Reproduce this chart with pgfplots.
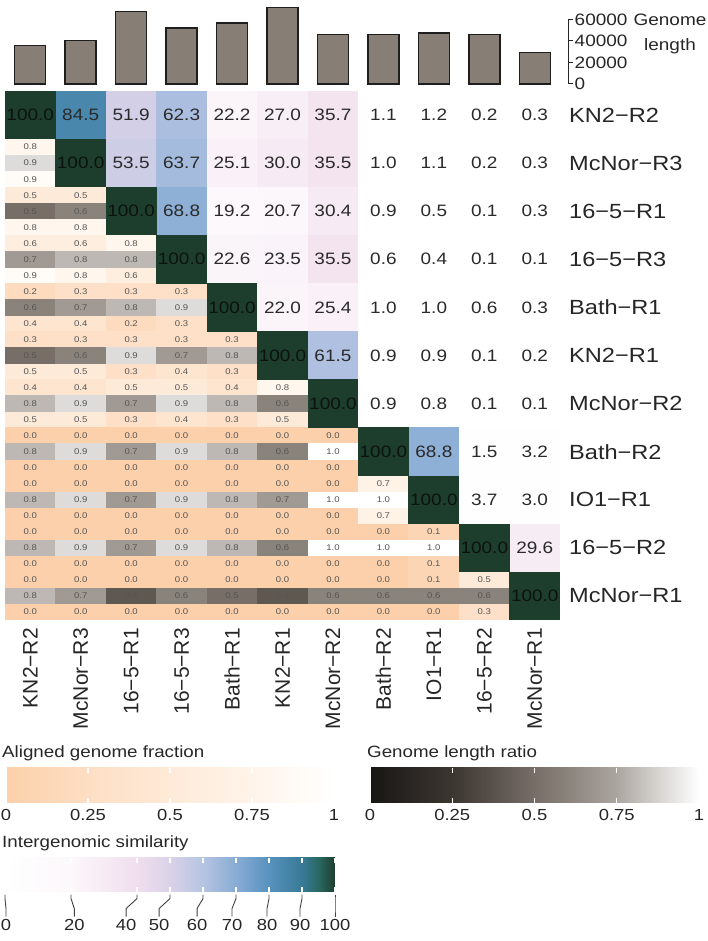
\documentclass[border=0pt]{standalone}
\usepackage{fontspec}
\setmainfont{Liberation Sans}[FakeStretch=1.15]
\newfontfamily\colfont{Liberation Sans}
\usepackage{pgfplots}
\pgfplotsset{compat=1.18}
\usepackage{pgfplotstable}
\usetikzlibrary{calc}
\pgfkeys{/pgf/number format/assume math mode=true}

\definecolor{txt}{HTML}{262626}
\definecolor{numtxt}{HTML}{2A2A2A}
\definecolor{diagtxt}{HTML}{0C120F}
\definecolor{smalltxt}{HTML}{555555}
\definecolor{barfill}{RGB}{135,126,118}
\definecolor{baredge}{HTML}{1E1E1E}

\newcommand\rowfont{\fontsize{20.5}{24}\selectfont}
\newcommand\colfontsz{\colfont\fontsize{21}{24}\selectfont}
\newcommand\numfont{\fontsize{16.5}{19}\selectfont}
\newcommand\smallnum{\fontsize{8.3}{9}\selectfont}
\newcommand\barfont{\fontsize{16.5}{24.5}\selectfont}
\newcommand\legfont{\fontsize{16}{19}\selectfont}
\newcommand\titfont{\fontsize{16.3}{19}\selectfont}

% colour scales
\pgfplotsset{
  colormap={simil}{rgb255(0pt)=(255,255,255) rgb255(20pt)=(252,248,251)
    rgb255(40pt)=(240,222,237) rgb255(50pt)=(218,210,232) rgb255(60pt)=(182,196,226)
    rgb255(70pt)=(136,172,212) rgb255(80pt)=(88,146,190) rgb255(90pt)=(56,122,150)
    rgb255(95pt)=(42,104,98) rgb255(100pt)=(29,62,45)},
  colormap={lenratio}{rgb255(0pt)=(24,22,20) rgb255(25pt)=(60,54,49)
    rgb255(50pt)=(118,110,103) rgb255(60pt)=(138,131,124) rgb255(75pt)=(172,166,160)
    rgb255(90pt)=(222,220,218) rgb255(100pt)=(255,255,255)},
  colormap={alnfrac}{rgb255(0pt)=(252,208,170) rgb255(25pt)=(253,222,195)
    rgb255(50pt)=(254,234,216) rgb255(75pt)=(255,244,234) rgb255(90pt)=(255,251,247)
    rgb255(100pt)=(255,255,255)},
}

% heatmap tiles: a full cell and a third of a cell
\pgfdeclareplotmark{bigcell}{\pgfpathrectangle{\pgfqpoint{-25.45pt}{-24.25pt}}{\pgfqpoint{50.9pt}{48.5pt}}\pgfusepathqfill}
\pgfdeclareplotmark{subcell}{\pgfpathrectangle{\pgfqpoint{-25.45pt}{-8.2pt}}{\pgfqpoint{50.9pt}{16.4pt}}\pgfusepathqfill}

\pgfplotsset{
  heatgrid/.style={at={(5pt,321pt)}, anchor=south west, scale only axis,
    width=555pt, height=529pt, xmin=0.5, xmax=11.5, ymin=0.5, ymax=11.5,
    y dir=reverse, clip=false},
  tiles/.style={scatter, only marks, point meta=\thisrow{v},
    scatter/use mapped color={draw=mapped color, fill=mapped color},
    nodes near coords*={\pgfmathprintnumber[fixed,fixed zerofill,precision=1]{\pgfplotspointmeta}},
    every node near coord/.append style={anchor=center, inner sep=0pt}},
  legbar/.style={scale only axis, axis line style={draw=none}, tick align=inside,
    major tick length=5pt, tick style={white, line width=1.2pt}, xtick pos=both,
    xticklabel pos=lower, xticklabel shift=3pt,
    xticklabel style={font=\legfont, text=txt}},
}

% genome lengths (bp)
\pgfplotstableread{
x len
1 35600
2 40600
3 67500
4 52200
5 56600
6 71200
7 45900
8 45900
9 47200
10 45900
11 29400
}\tablen

% intergenomic similarity (%), upper triangle
\pgfplotstableread{
x y v
2 1 84.5
3 1 51.9
4 1 62.3
5 1 22.2
6 1 27.0
7 1 35.7
8 1 1.1
9 1 1.2
10 1 0.2
11 1 0.3
3 2 53.5
4 2 63.7
5 2 25.1
6 2 30.0
7 2 35.5
8 2 1.0
9 2 1.1
10 2 0.2
11 2 0.3
4 3 68.8
5 3 19.2
6 3 20.7
7 3 30.4
8 3 0.9
9 3 0.5
10 3 0.1
11 3 0.3
5 4 22.6
6 4 23.5
7 4 35.5
8 4 0.6
9 4 0.4
10 4 0.1
11 4 0.1
6 5 22.0
7 5 25.4
8 5 1.0
9 5 1.0
10 5 0.6
11 5 0.3
7 6 61.5
8 6 0.9
9 6 0.9
10 6 0.1
11 6 0.2
8 7 0.9
9 7 0.8
10 7 0.1
11 7 0.1
9 8 68.8
10 8 1.5
11 8 3.2
10 9 3.7
11 9 3.0
11 10 29.6
}\tabsim

% self comparisons on the diagonal
\pgfplotstableread{
x y v
1 1 100
2 2 100
3 3 100
4 4 100
5 5 100
6 6 100
7 7 100
8 8 100
9 9 100
10 10 100
11 11 100
}\tabdiag

% aligned genome fraction, upper and lower third of each lower-triangle cell
\pgfplotstableread{
x y v
1 1.6667 0.8
1 2.3333 0.9
1 2.6667 0.5
1 3.3333 0.8
2 2.6667 0.5
2 3.3333 0.8
1 3.6667 0.6
1 4.3333 0.9
2 3.6667 0.6
2 4.3333 0.8
3 3.6667 0.8
3 4.3333 0.6
1 4.6667 0.2
1 5.3333 0.4
2 4.6667 0.3
2 5.3333 0.4
3 4.6667 0.3
3 5.3333 0.2
4 4.6667 0.3
4 5.3333 0.3
1 5.6667 0.3
1 6.3333 0.5
2 5.6667 0.3
2 6.3333 0.5
3 5.6667 0.3
3 6.3333 0.3
4 5.6667 0.3
4 6.3333 0.4
5 5.6667 0.3
5 6.3333 0.3
1 6.6667 0.4
1 7.3333 0.5
2 6.6667 0.4
2 7.3333 0.5
3 6.6667 0.5
3 7.3333 0.3
4 6.6667 0.5
4 7.3333 0.4
5 6.6667 0.4
5 7.3333 0.3
6 6.6667 0.8
6 7.3333 0.5
1 7.6667 0
1 8.3333 0
2 7.6667 0
2 8.3333 0
3 7.6667 0
3 8.3333 0
4 7.6667 0
4 8.3333 0
5 7.6667 0
5 8.3333 0
6 7.6667 0
6 8.3333 0
7 7.6667 0
7 8.3333 0
1 8.6667 0
1 9.3333 0
2 8.6667 0
2 9.3333 0
3 8.6667 0
3 9.3333 0
4 8.6667 0
4 9.3333 0
5 8.6667 0
5 9.3333 0
6 8.6667 0
6 9.3333 0
7 8.6667 0
7 9.3333 0
8 8.6667 0.7
8 9.3333 0.7
1 9.6667 0
1 10.3333 0
2 9.6667 0
2 10.3333 0
3 9.6667 0
3 10.3333 0
4 9.6667 0
4 10.3333 0
5 9.6667 0
5 10.3333 0
6 9.6667 0
6 10.3333 0
7 9.6667 0
7 10.3333 0
8 9.6667 0
8 10.3333 0
9 9.6667 0.1
9 10.3333 0.1
1 10.6667 0
1 11.3333 0
2 10.6667 0
2 11.3333 0
3 10.6667 0
3 11.3333 0
4 10.6667 0
4 11.3333 0
5 10.6667 0
5 11.3333 0
6 10.6667 0
6 11.3333 0
7 10.6667 0
7 11.3333 0
8 10.6667 0
8 11.3333 0
9 10.6667 0.1
9 11.3333 0
10 10.6667 0.5
10 11.3333 0.3
}\tabfrac

% genome length ratio, middle third of each lower-triangle cell
\pgfplotstableread{
x y v
1 2 0.9
1 3 0.5
2 3 0.6
1 4 0.7
2 4 0.8
3 4 0.8
1 5 0.6
2 5 0.7
3 5 0.8
4 5 0.9
1 6 0.5
2 6 0.6
3 6 0.9
4 6 0.7
5 6 0.8
1 7 0.8
2 7 0.9
3 7 0.7
4 7 0.9
5 7 0.8
6 7 0.6
1 8 0.8
2 8 0.9
3 8 0.7
4 8 0.9
5 8 0.8
6 8 0.6
7 8 1.0
1 9 0.8
2 9 0.9
3 9 0.7
4 9 0.9
5 9 0.8
6 9 0.7
7 9 1.0
8 9 1.0
1 10 0.8
2 10 0.9
3 10 0.7
4 10 0.9
5 10 0.8
6 10 0.6
7 10 1.0
8 10 1.0
9 10 1.0
1 11 0.8
2 11 0.7
3 11 0.4
4 11 0.6
5 11 0.5
6 11 0.4
7 11 0.6
8 11 0.6
9 11 0.6
10 11 0.6
}\tabratio

\begin{document}
\begin{tikzpicture}
\useasboundingbox (0,0) rectangle (708pt,941pt);

% genome length bars
\begin{axis}[at={(5pt,857pt)}, anchor=south west, scale only axis,
  width=563pt, height=81.7pt, xmin=0.5, xmax=11.659, ymin=0, ymax=76000,
  axis x line=none, xtick=\empty, axis y line*=right, y axis line style={draw=none},
  ytick={0,20000,40000,60000}, yticklabels={0,20000,40000,60000},
  scaled y ticks=false,
  tick align=outside, major tick length=5pt,
  tick style={line width=1pt, color=black!85},
  yticklabel style={font=\barfont, text=txt, inner sep=1.5pt}, clip=false]
\addplot[ybar, bar width=31pt, fill=barfill, draw=baredge, line width=1.5pt]
  table[x=x, y=len]{\tablen};
\addplot[sharp plot, no marks, line width=1pt, color=black!85]
  coordinates {(11.659,0) (11.659,60000)};
\end{axis}
\node[align=center, font=\barfont, text=txt] at (670pt,907pt) {Genome\\length};

% aligned genome fraction layer
\begin{axis}[heatgrid, hide axis, colormap name=alnfrac,
  point meta min=0, point meta max=1, colorbar horizontal, colorbar/width=35pt,
  colorbar style={legbar, at={($(parent axis.south west)+(1pt,-174pt)$)},
    anchor=south west, width=328pt, height=35pt,
    xtick={0,0.25,0.5,0.75,1}, xticklabels={0,0.25,0.5,0.75,1}}]
\addplot[tiles, mark=subcell,
  every node near coord/.append style={font=\smallnum, text=smalltxt}]
  table[x=x, y=y]{\tabfrac};
\end{axis}

% genome length ratio layer
\begin{axis}[heatgrid, hide axis, colormap name=lenratio,
  point meta min=0, point meta max=1, colorbar horizontal, colorbar/width=35pt,
  colorbar style={legbar, at={($(parent axis.south west)+(365pt,-174pt)$)},
    anchor=south west, width=329pt, height=35pt,
    xtick={0,0.25,0.5,0.75,1}, xticklabels={0,0.25,0.5,0.75,1}}]
\addplot[tiles, mark=subcell,
  every node near coord/.append style={font=\smallnum, text=smalltxt}]
  table[x=x, y=y]{\tabratio};
\end{axis}

% intergenomic similarity layer with genome names
\begin{axis}[heatgrid, colormap name=simil,
  point meta min=0, point meta max=100,
  axis line style={draw=none}, major tick length=0pt, tick style={draw=none},
  xtick={1,...,11}, ytick={1,...,11},
  xticklabels={KN2−R2,McNor−R3,16−5−R1,16−5−R3,Bath−R1,KN2−R1,McNor−R2,Bath−R2,IO1−R1,16−5−R2,McNor−R1},
  yticklabels={KN2−R2,McNor−R3,16−5−R1,16−5−R3,Bath−R1,KN2−R1,McNor−R2,Bath−R2,IO1−R1,16−5−R2,McNor−R1},
  xticklabel pos=lower, yticklabel pos=right,
  xticklabel style={rotate=90, anchor=east, inner sep=0pt, font=\colfontsz, text=txt},
  xticklabel shift=8pt,
  yticklabel style={anchor=west, inner sep=0pt, font=\rowfont, text=txt},
  yticklabel shift=9pt,
  colorbar horizontal, colorbar/width=34pt,
  colorbar style={legbar, at={($(parent axis.south west)+(0pt,-263pt)$)},
    anchor=south west, width=330pt, height=34pt,
    xtick={0,20,40,50,60,70,80,90,100}, xticklabels={},
    after end axis/.append code={
      \foreach \tk/\lp/\lab in {0/0.003/0, 0.2/0.21/20, 0.4/0.367/40, 0.5/0.467/50,
          0.6/0.582/60, 0.7/0.688/70, 0.8/0.794/80, 0.9/0.894/90, 1/1/100}{
        \draw[line width=0.9pt, color=black!75]
          ($(rel axis cs:\tk,0)+(0,-3pt)$) -- ++(0,-4pt)
          -- ($(rel axis cs:\lp,0)+(0,-17pt)$) -- ++(0,-8pt);
        \node[anchor=north, inner sep=1pt, font=\legfont, text=txt]
          at ($(rel axis cs:\lp,0)+(0,-27pt)$) {\lab};
      }
    }}]
\addplot[tiles, mark=bigcell,
  every node near coord/.append style={font=\numfont, text=numtxt}]
  table[x=x, y=y]{\tabsim};
\addplot[tiles, mark=bigcell,
  every node near coord/.append style={font=\numfont, text=diagtxt}]
  table[x=x, y=y]{\tabdiag};
\end{axis}

% legend titles
\node[anchor=west, inner sep=0pt, font=\titfont, text=txt] at (2pt,188pt) {Aligned genome fraction};
\node[anchor=west, inner sep=0pt, font=\titfont, text=txt] at (367pt,188pt) {Genome length ratio};
\node[anchor=west, inner sep=0pt, font=\titfont, text=txt] at (2pt,98pt) {Intergenomic similarity};
\end{tikzpicture}
\end{document}
